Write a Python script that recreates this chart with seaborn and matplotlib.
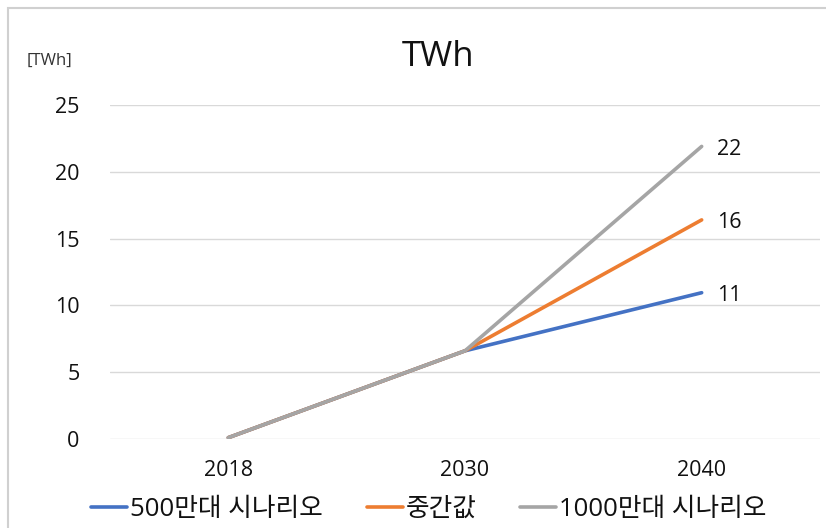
import matplotlib
matplotlib.use("Agg")
import matplotlib.pyplot as plt
from matplotlib.patches import Rectangle
import pandas as pd
import seaborn as sns

years = ["2018", "2030", "2040"]
series_names = ["500만대 시나리오", "중간값", "1000만대 시나리오"]
low_case = [0.1, 6.6, 10.95]
mid_case = [0.1, 6.6, 16.4]
high_case = [0.1, 6.6, 21.9]
colors = ["#4472C4", "#ED7D31", "#A5A5A5"]
y_ticks = [0, 5, 10, 15, 20, 25]

sns.set_theme(style="white")
plt.rcParams["font.family"] = ["Open Sans", "Noto Sans CJK KR", "DejaVu Sans"]

rows = []
for name, vals in zip(series_names, [low_case, mid_case, high_case]):
    for yr, v in zip(years, vals):
        rows.append({"year": yr, "value": v, "series": name})
df = pd.DataFrame(rows)
df["x"] = df["year"].map({y: i for i, y in enumerate(years)})

fig = plt.figure(figsize=(8.26, 5.28), dpi=100)
ax = fig.add_axes([110 / 826, 1 - 439 / 528, (820 - 110) / 826, (439 - 105) / 528])

sns.lineplot(data=df, x="x", y="value", hue="series", hue_order=series_names,
             palette=colors, linewidth=2.6, ax=ax, legend=False, sort=False)

ax.set_xlim(-0.5, 2.5)
ax.set_ylim(0, 25)
ax.set_yticks(y_ticks)
ax.set_yticklabels([str(t) for t in y_ticks])
ax.set_xticks(range(len(years)))
ax.set_xticklabels(years)
ax.tick_params(axis="both", length=0, labelsize=15.5, labelcolor="#111111")
ax.tick_params(axis="y", pad=22)
ax.tick_params(axis="x", pad=15)
ax.set_xlabel("")
ax.set_ylabel("")
ax.grid(axis="y", color="#d9d9d9", linewidth=1)
ax.set_axisbelow(True)
for s in ax.spines.values():
    s.set_visible(False)

# end-of-line value labels
for vals in [low_case, mid_case, high_case]:
    ax.annotate(f"{vals[-1]:.0f}", xy=(2, vals[-1]), xytext=(11, -2),
                textcoords="offset points", va="center", ha="left",
                fontsize=15.5, color="#111111")

fig.text(438 / 826, 1 - 57 / 528, "TWh", ha="center", va="center",
         fontsize=25, color="#111111")
fig.text(49 / 826, 1 - 61 / 528, "[TWh]", ha="center", va="center",
         fontsize=12, color="#333333")

handles = [plt.Line2D([0], [0], color=c, linewidth=2.6) for c in colors]
fig.legend(handles, series_names, loc="center", bbox_to_anchor=(429 / 826, 1 - 509 / 528),
           ncol=3, frameon=False, fontsize=18.5, handlelength=1.4,
           handletextpad=0.12, columnspacing=1.7, labelcolor="#111111")

# chart border
fig.patches.append(Rectangle((8 / 826, -0.1), 1.2, 1 - 8 / 528 + 0.1,
                             transform=fig.transFigure, fill=False,
                             edgecolor="#d0d0d0", linewidth=1.5))

fig.savefig("out.png", dpi=100)
